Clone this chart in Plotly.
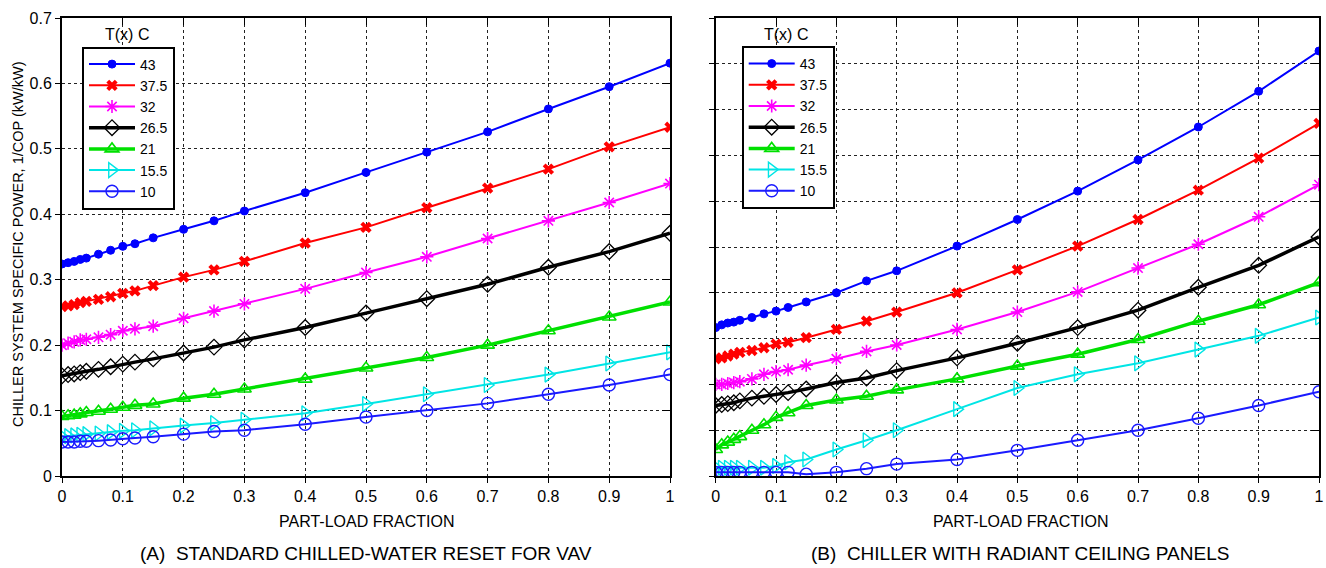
import plotly.graph_objects as go

# ---------------- data ----------------
part_load = [0, 0.01, 0.02, 0.03, 0.04, 0.06, 0.08, 0.1, 0.12, 0.15,
             0.2, 0.25, 0.3, 0.4, 0.5, 0.6, 0.7, 0.8, 0.9, 1.0]
temps = ["43", "37.5", "32", "26.5", "21", "15.5", "10"]

# (A) standard chilled-water reset for VAV
a_43 = [0.324, 0.326, 0.328, 0.331, 0.333, 0.339, 0.345, 0.351, 0.355, 0.364,
        0.377, 0.390, 0.405, 0.433, 0.464, 0.495, 0.526, 0.561, 0.595, 0.631]
a_375 = [0.259, 0.260, 0.262, 0.265, 0.267, 0.270, 0.274, 0.279, 0.283, 0.291,
         0.304, 0.315, 0.328, 0.356, 0.380, 0.410, 0.440, 0.469, 0.503, 0.533]
a_32 = [0.200, 0.203, 0.205, 0.208, 0.209, 0.212, 0.216, 0.222, 0.225, 0.229,
        0.241, 0.252, 0.263, 0.286, 0.311, 0.335, 0.363, 0.390, 0.418, 0.447]
a_265 = [0.153, 0.155, 0.156, 0.158, 0.160, 0.163, 0.167, 0.171, 0.174, 0.179,
         0.188, 0.197, 0.208, 0.227, 0.249, 0.271, 0.293, 0.319, 0.343, 0.371]
a_21 = [0.091, 0.092, 0.093, 0.095, 0.097, 0.099, 0.102, 0.105, 0.108, 0.110,
        0.119, 0.125, 0.133, 0.148, 0.165, 0.181, 0.200, 0.222, 0.243, 0.266]
a_155 = [0.060, 0.061, 0.062, 0.063, 0.064, 0.065, 0.067, 0.069, 0.070, 0.073,
         0.077, 0.081, 0.086, 0.096, 0.110, 0.125, 0.139, 0.155, 0.172, 0.189]
a_10 = [0.052, 0.052, 0.052, 0.053, 0.053, 0.054, 0.055, 0.057, 0.058, 0.060,
        0.064, 0.068, 0.070, 0.079, 0.090, 0.100, 0.111, 0.125, 0.139, 0.155]

# (B) chiller with radiant ceiling panels (axis has no tick labels)
b_43 = [0.162, 0.165, 0.167, 0.168, 0.170, 0.173, 0.177, 0.180, 0.184, 0.190,
        0.200, 0.213, 0.224, 0.251, 0.280, 0.311, 0.345, 0.381, 0.420, 0.464]
b_375 = [0.128, 0.129, 0.131, 0.133, 0.135, 0.137, 0.140, 0.144, 0.146, 0.151,
         0.160, 0.169, 0.179, 0.200, 0.225, 0.251, 0.280, 0.312, 0.347, 0.385]
b_32 = [0.100, 0.100, 0.101, 0.102, 0.103, 0.106, 0.111, 0.114, 0.116, 0.121,
        0.128, 0.136, 0.143, 0.160, 0.179, 0.201, 0.227, 0.253, 0.283, 0.318]
b_265 = [0.077, 0.078, 0.079, 0.080, 0.082, 0.085, 0.087, 0.089, 0.091, 0.095,
         0.102, 0.107, 0.115, 0.129, 0.145, 0.162, 0.181, 0.206, 0.230, 0.261]
b_21 = [0.029, 0.034, 0.037, 0.040, 0.043, 0.050, 0.056, 0.064, 0.069, 0.077,
        0.083, 0.087, 0.094, 0.106, 0.120, 0.133, 0.149, 0.169, 0.187, 0.211]
b_155 = [0.009, 0.009, 0.009, 0.009, 0.009, 0.009, 0.009, 0.011, 0.015, 0.018,
         0.029, 0.039, 0.050, 0.073, 0.096, 0.111, 0.123, 0.138, 0.153, 0.173]
b_10 = [0.004, 0.004, 0.004, 0.004, 0.004, 0.004, 0.004, 0.004, 0.004, 0.002,
        0.004, 0.008, 0.013, 0.018, 0.028, 0.039, 0.050, 0.063, 0.077, 0.092]

x_ticks = [0, 0.1, 0.2, 0.3, 0.4, 0.5, 0.6, 0.7, 0.8, 0.9, 1]
x_tick_text = ["0", "0.1", "0.2", "0.3", "0.4", "0.5", "0.6", "0.7", "0.8", "0.9", "1"]
a_y_ticks = [0, 0.1, 0.2, 0.3, 0.4, 0.5, 0.6, 0.7]
a_y_tick_text = ["0", "0.1", "0.2", "0.3", "0.4", "0.5", "0.6", "0.7"]
b_y_ticks = [0, 0.05, 0.1, 0.15, 0.2, 0.25, 0.3, 0.35, 0.4, 0.45, 0.5]

# ---------------- styles ----------------
styles = [
    dict(color="#0000FF", symbol="circle", size=8, lw=2, mlw=1),
    dict(color="#FF0000", symbol="x", size=10, lw=2, mlw=0),
    dict(color="#FF00FF", symbol="asterisk-open", size=11, lw=2, mlw=1.6),
    dict(color="#000000", symbol="diamond-open", size=12, lw=3.5, mlw=1.3),
    dict(color="#00E000", symbol="triangle-up-open", size=12, lw=3.5, mlw=1.6),
    dict(color="#00E5E5", symbol="triangle-right-open", size=13, lw=2, mlw=1.4),
    dict(color="#1A1AFF", symbol="circle-open", size=12, lw=2, mlw=1.4),
]

FONT = "Liberation Sans, Arial, sans-serif"

fig = go.Figure()
series_a = [a_43, a_375, a_32, a_265, a_21, a_155, a_10]
series_b = [b_43, b_375, b_32, b_265, b_21, b_155, b_10]

for name, ys, st in zip(temps, series_a, styles):
    fig.add_trace(go.Scatter(
        x=part_load, y=ys, name=name, mode="lines+markers",
        xaxis="x", yaxis="y", legend="legend",
        line=dict(color=st["color"], width=st["lw"]),
        marker=dict(symbol=st["symbol"], size=st["size"], color=st["color"],
                    line=dict(color=st["color"], width=st["mlw"])),
    ))
for name, ys, st in zip(temps, series_b, styles):
    fig.add_trace(go.Scatter(
        x=part_load, y=ys, name=name, mode="lines+markers",
        xaxis="x2", yaxis="y2", legend="legend2",
        line=dict(color=st["color"], width=st["lw"]),
        marker=dict(symbol=st["symbol"], size=st["size"], color=st["color"],
                    line=dict(color=st["color"], width=st["mlw"])),
    ))

W, H = 1326, 568
dA = [62 / W, 670 / W]
dB = [715.7 / W, 1319 / W]
dY = [1 - 476 / H, 1 - 18 / H]

grid = dict(showgrid=True, gridcolor="#222222", griddash="dot", gridwidth=1)
common_x = dict(range=[0, 1], tickvals=x_ticks, ticktext=x_tick_text,
                ticks="outside", ticklen=5, tickcolor="black", tickwidth=1,
                showline=True, linecolor="black", linewidth=2, mirror=True,
                zeroline=False, automargin=False, ticklabeloverflow="allow",
                tickfont=dict(family=FONT, size=16, color="black"), **grid)
overlay = dict(showticklabels=False, showgrid=False, showline=False,
               zeroline=False, automargin=False, tickcolor="black")

fig.update_layout(
    width=W, height=H,
    margin=dict(l=0, r=0, t=0, b=0, autoexpand=False),
    paper_bgcolor="white", plot_bgcolor="white",
    font=dict(family=FONT, color="black"),
    showlegend=True,
    xaxis=dict(domain=dA, anchor="y", **common_x),
    xaxis2=dict(domain=dB, anchor="y2", **common_x),
    yaxis=dict(domain=dY, anchor="x", range=[0, 0.7], tickvals=a_y_ticks,
               ticktext=a_y_tick_text, ticks="outside", ticklen=5,
               tickcolor="black", showline=True, linecolor="black", linewidth=2,
               mirror=True, zeroline=False, automargin=False,
               ticklabeloverflow="allow",
               tickfont=dict(family=FONT, size=16, color="black"), **grid),
    yaxis2=dict(domain=dY, anchor="x2", range=[0, 0.5], tickvals=b_y_ticks,
                showticklabels=False, ticks="outside", ticklen=5,
                tickcolor="black", showline=True, linecolor="black", linewidth=2,
                mirror=True, zeroline=False, automargin=False, **grid),
    # inside ticks on top / right edges
    xaxis3=dict(overlaying="x", side="top", anchor="y", range=[0, 1],
                tickvals=x_ticks, ticks="inside", ticklen=7, **overlay),
    xaxis4=dict(overlaying="x2", side="top", anchor="y2", range=[0, 1],
                tickvals=x_ticks, ticks="inside", ticklen=7, **overlay),
    yaxis3=dict(overlaying="y", side="right", anchor="x", range=[0, 0.7],
                tickvals=a_y_ticks, ticks="inside", ticklen=8, **overlay),
    yaxis4=dict(overlaying="y2", side="right", anchor="x2", range=[0, 0.5],
                tickvals=b_y_ticks, ticks="inside", ticklen=8, **overlay),
    legend=dict(x=82 / W, y=1 - 46.5 / H, xanchor="left", yanchor="top",
                bgcolor="white", bordercolor="black", borderwidth=2,
                font=dict(family=FONT, size=14, color="black"),
                itemwidth=46, tracegroupgap=0),
    legend2=dict(x=741.7 / W, y=1 - 46 / H, xanchor="left", yanchor="top",
                 bgcolor="white", bordercolor="black", borderwidth=2,
                 font=dict(family=FONT, size=14, color="black"),
                 itemwidth=46, tracegroupgap=0),
)

# dummy traces to make overlay axes appear
fig.add_trace(go.Scatter(x=[None], y=[None], xaxis="x3", yaxis="y3",
                         showlegend=False, hoverinfo="skip"))
fig.add_trace(go.Scatter(x=[None], y=[None], xaxis="x4", yaxis="y4",
                         showlegend=False, hoverinfo="skip"))

ann = [
    dict(text="T(x) C", x=127 / W, y=1 - 35 / H, font=dict(size=16)),
    dict(text="T(x) C", x=786 / W, y=1 - 35 / H, font=dict(size=16)),
    dict(text="PART-LOAD FRACTION", x=(62 + 670) / 2 / W, y=1 - 521 / H, font=dict(size=16)),
    dict(text="PART-LOAD FRACTION", x=(715.7 + 1325) / 2 / W, y=1 - 521 / H, font=dict(size=16)),
    dict(text="(A)  STANDARD CHILLED-WATER RESET FOR VAV", x=(62 + 670) / 2 / W,
         y=1 - 553 / H, font=dict(size=19)),
    dict(text="(B)  CHILLER WITH RADIANT CEILING PANELS", x=(715.7 + 1325) / 2 / W,
         y=1 - 553 / H, font=dict(size=19)),
    dict(text="CHILLER SYSTEM SPECIFIC POWER, 1/COP (kW/kW)", x=18 / W, y=1 - 244 / H,
         textangle=-90, font=dict(size=14.5)),
]
for a in ann:
    f = dict(family=FONT, color="black")
    f.update(a.pop("font"))
    fig.add_annotation(xref="paper", yref="paper", showarrow=False,
                       xanchor="center", yanchor="middle", font=f, **a)

fig.write_html(
    "out.html",
    config={"displayModeBar": False},
    post_script="document.body.style.margin='0';document.body.style.overflow='hidden';",
)
